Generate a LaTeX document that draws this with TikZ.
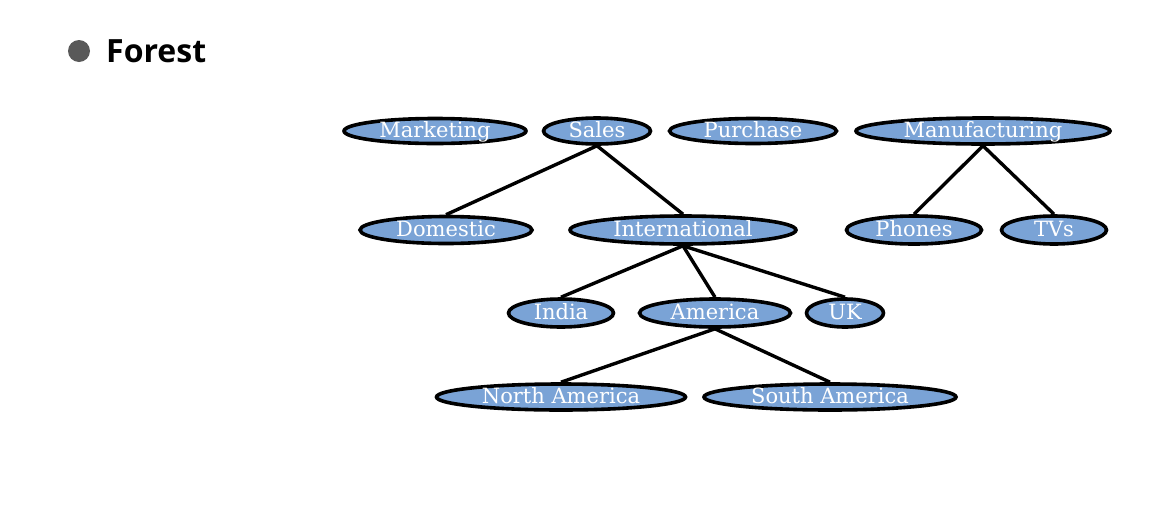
\documentclass[tikz,border=0pt]{standalone}
\usepackage{fontspec}
\setmainfont{DejaVu Serif}
\newfontfamily\titlefont{Open Sans}
\usetikzlibrary{shapes.geometric}
\definecolor{nodefill}{RGB}{122,163,214}
\definecolor{bulletgray}{RGB}{89,89,89}
\begin{document}
\begin{tikzpicture}[x=1pt,y=-1pt,
  tn/.style={ellipse, draw=black, line width=3.6pt, fill=nodefill, text=white,
    inner sep=0pt, text height=14pt, text depth=1pt, font=\fontsize{21}{25}\selectfont},
  edge/.style={line width=3.4pt, draw=black}]
\useasboundingbox (0,0) rectangle (1162,512);
\node[circle, fill=bulletgray, minimum size=22pt, inner sep=0pt] (bullet) at (79,51) {};
\node[anchor=base west, inner sep=0pt, font=\titlefont\bfseries\fontsize{32}{38}\selectfont] (title) at (106,62) {Forest};
% row 1
\node[tn, minimum width=182pt, minimum height=25pt] (mkt) at (435,131) {Marketing};
\node[tn, minimum width=107pt, minimum height=26pt] (sales) at (597,131) {Sales};
\node[tn, minimum width=167pt, minimum height=25pt] (pur) at (753,131) {Purchase};
\node[tn, minimum width=254pt, minimum height=26pt] (man) at (983,131) {Manufacturing};
% row 2
\node[tn, minimum width=172pt, minimum height=27pt] (dom) at (446,230) {Domestic};
\node[tn, minimum width=226pt, minimum height=28pt] (intl) at (683,230) {International};
\node[tn, minimum width=135pt, minimum height=28pt] (ph) at (914,230) {Phones};
\node[tn, minimum width=105pt, minimum height=28pt] (tv) at (1054,230) {TVs};
% row 3
\node[tn, minimum width=105pt, minimum height=28pt] (ind) at (561,313) {India};
\node[tn, minimum width=151pt, minimum height=28pt] (am) at (715,313) {America};
\node[tn, minimum width=77pt, minimum height=28pt] (uk) at (845,313) {UK};
% row 4
\node[tn, minimum width=249pt, minimum height=26pt] (na) at (561,397) {North America};
\node[tn, minimum width=252pt, minimum height=26pt] (sa) at (830,397) {South America};
% edges
\draw[edge] (sales.south) -- (dom.north);
\draw[edge] (sales.south) -- (intl.north);
\draw[edge] (man.south) -- (ph.north);
\draw[edge] (man.south) -- (tv.north);
\draw[edge] (intl.south) -- (ind.north);
\draw[edge] (intl.south) -- (am.north);
\draw[edge] (intl.south) -- (uk.north);
\draw[edge] (am.south) -- (na.north);
\draw[edge] (am.south) -- (sa.north);
\end{tikzpicture}
\end{document}
